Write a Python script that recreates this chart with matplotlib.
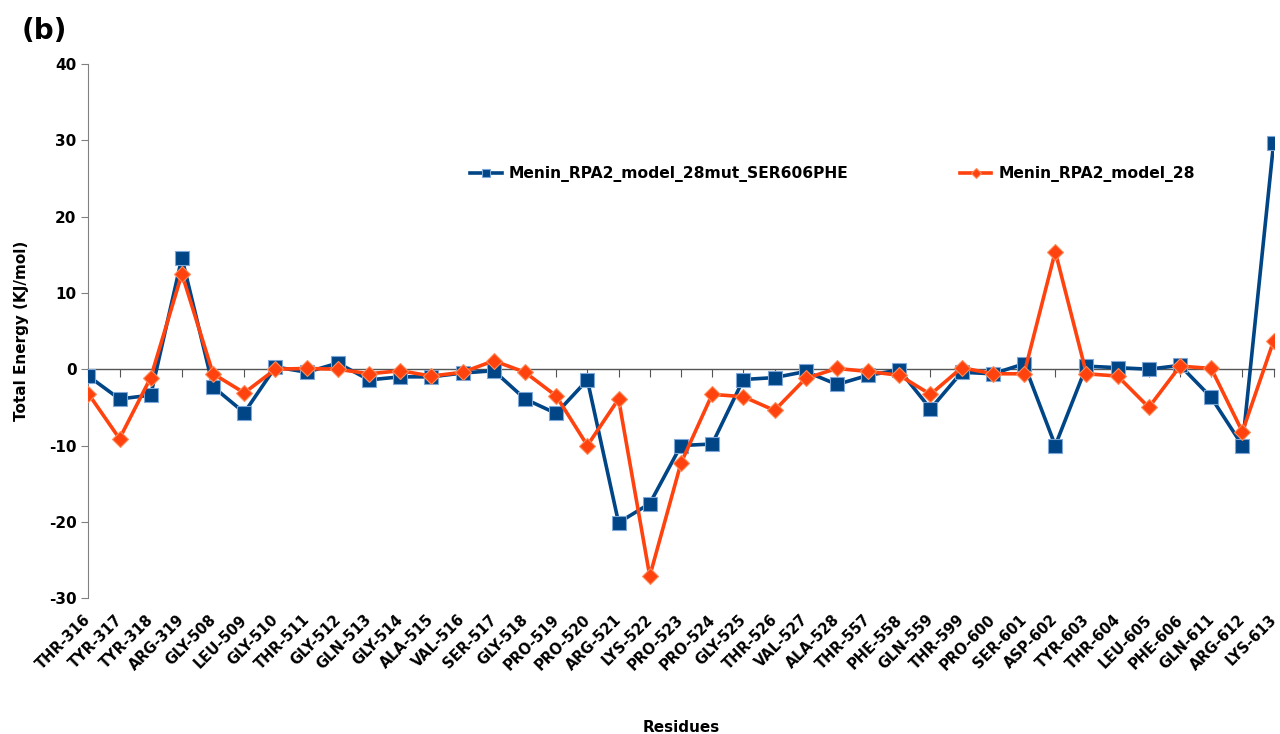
import matplotlib
matplotlib.use("Agg")
import matplotlib.pyplot as plt
from matplotlib.transforms import ScaledTranslation

residues = ["THR-316", "TYR-317", "TYR-318", "ARG-319", "GLY-508", "LEU-509", "GLY-510",
            "THR-511", "GLY-512", "GLN-513", "GLY-514", "ALA-515", "VAL-516", "SER-517",
            "GLY-518", "PRO-519", "PRO-520", "ARG-521", "LYS-522", "PRO-523", "PRO-524",
            "GLY-525", "THR-526", "VAL-527", "ALA-528", "THR-557", "PHE-558", "GLN-559",
            "THR-599", "PRO-600", "SER-601", "ASP-602", "TYR-603", "THR-604", "LEU-605",
            "PHE-606", "GLN-611", "ARG-612", "LYS-613"]

# mutant model (SER606PHE)
mutant = [-0.9, -3.9, -3.4, 14.6, -2.3, -5.7, 0.3, -0.4, 0.8, -1.4, -1.0, -1.0, -0.5,
          -0.2, -3.9, -5.8, -1.4, -20.1, -17.6, -10.0, -9.8, -1.35, -1.1, -0.3, -2.0,
          -0.8, -0.1, -5.2, -0.4, -0.6, 0.7, -10.0, 0.4, 0.2, 0.0, 0.5, -3.7, -10.0, 29.6]

# wild type model
wildtype = [-3.2, -9.1, -1.1, 12.5, -0.6, -3.1, 0.0, 0.1, 0.0, -0.6, -0.2, -0.9, -0.4,
            1.1, -0.4, -3.5, -10.0, -3.9, -27.1, -12.3, -3.3, -3.6, -5.4, -1.2, 0.1,
            -0.3, -0.8, -3.3, 0.2, -0.6, -0.6, 15.4, -0.6, -0.9, -5.0, 0.4, 0.1, -8.2, 3.7]

series_names = ["Menin_RPA2_model_28mut_SER606PHE", "Menin_RPA2_model_28"]

plt.rcParams['font.family'] = ['DejaVu Sans']
plt.rcParams['font.weight'] = 'bold'
plt.rcParams['axes.unicode_minus'] = False

fig = plt.figure(figsize=(12.8, 7.34), dpi=100)
ax = fig.add_axes([0.069, 0.185, 0.926, 0.728])

x = list(range(len(residues)))
ax.plot(x, mutant, color='#004586', lw=2.6, marker='s', markersize=10,
        markeredgecolor='#7da7d9', markeredgewidth=0.8, label=series_names[0], zorder=3)
ax.plot(x, wildtype, color='#ff420e', lw=2.6, marker='D', markersize=8,
        markeredgecolor='#ff8c5a', markeredgewidth=0.8, label=series_names[1], zorder=4)

ax.set_xlim(0, len(residues) - 1)
ax.set_ylim(-30, 40)
ax.set_yticks(range(-30, 41, 10))

for s in ['top', 'right']:
    ax.spines[s].set_visible(False)
ax.spines['left'].set_color('#808080')
ax.spines['bottom'].set_position(('data', 0))
ax.spines['bottom'].set_color('#555555')
ax.spines['bottom'].set_linewidth(1.0)
ax.tick_params(axis='y', colors='#808080', labelcolor='black', labelsize=11, length=5)
ax.tick_params(axis='x', colors='#555555', length=6, direction='out')
ax.set_xticks(x)
ax.set_xticklabels([])

# residue labels along the bottom of the plot
sec = ax.secondary_xaxis(0)
sec.spines['bottom'].set_visible(False)
sec.set_xticks(x)
sec.set_xticklabels(residues, rotation=45, ha='right', rotation_mode='anchor',
                    fontsize=10.5, fontweight='bold')
sec.tick_params(axis='x', length=0, pad=10)
shift = ScaledTranslation(-5 / 100, 0, fig.dpi_scale_trans)
for lbl in sec.get_xticklabels():
    lbl.set_transform(lbl.get_transform() + shift)
sec.set_xlabel("Residues", fontsize=11, fontweight='bold', labelpad=34)

ax.set_ylabel("Total Energy (KJ/mol)", fontsize=11, fontweight='bold', labelpad=14)
for lbl in ax.get_yticklabels():
    lbl.set_fontweight('bold')

ax.legend(loc='center', bbox_to_anchor=(0.628, 0.793), ncol=2, frameon=False,
          fontsize=11.2, handlelength=2.0, handletextpad=0.45, columnspacing=7.2,
          markerscale=0.6)

fig.text(0.017, 0.958, "(b)", fontsize=20, fontweight='bold', va='center')

fig.savefig("out.png", dpi=100)
